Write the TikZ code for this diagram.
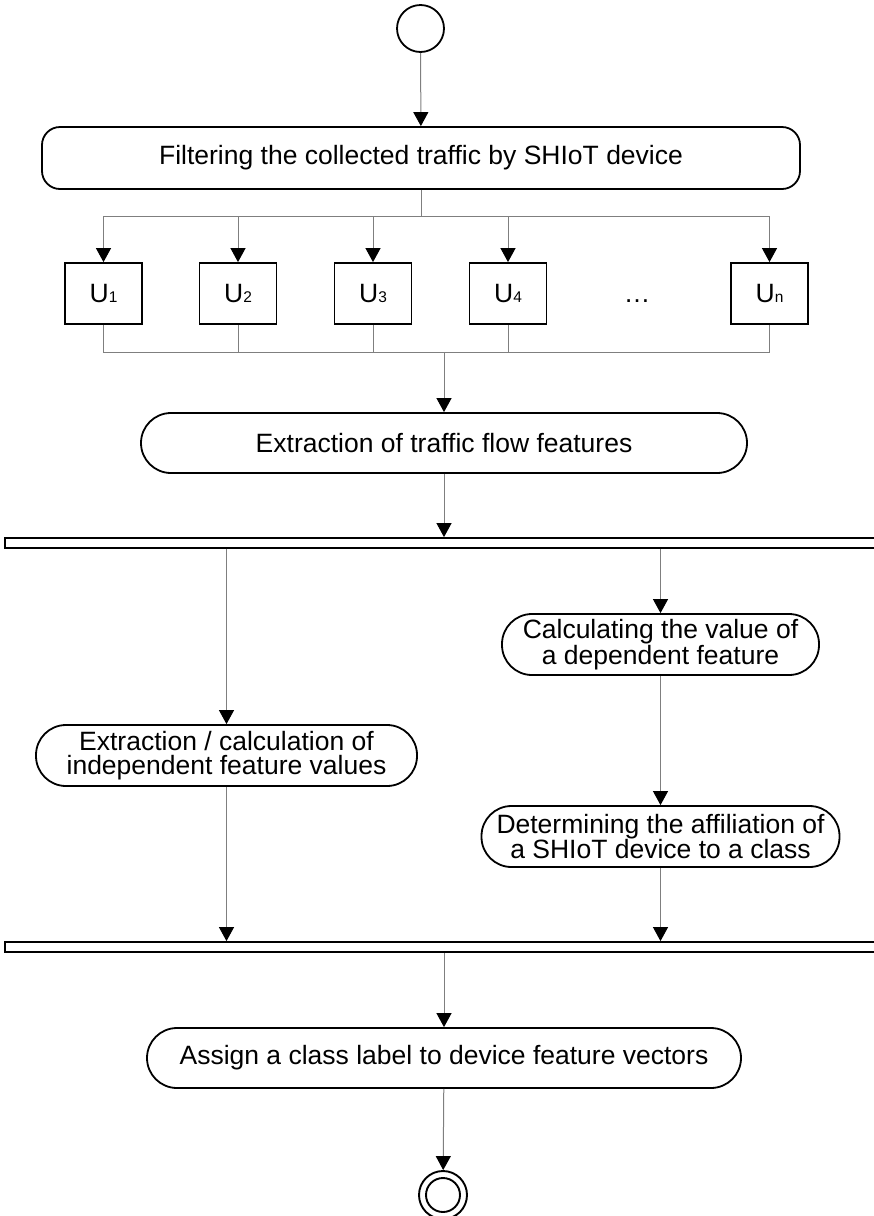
\documentclass[tikz,border=0pt]{standalone}
\usepackage{fontspec}
\setmainfont{Liberation Sans}
\usetikzlibrary{arrows.meta,positioning,calc}
\definecolor{wire}{HTML}{7F7F7F}
\tikzset{
  action/.style={draw=black,line width=1.8pt,fill=white,rounded corners=30pt,minimum height=61pt,inner sep=0pt,align=center,font=\fontsize{26.5}{24.5}\selectfont},
  unit/.style={draw=black,line width=1.8pt,fill=white,minimum width=77pt,minimum height=61pt,inner sep=0pt,font=\fontsize{26.5}{26.5}\selectfont},
  bar/.style={draw=black,line width=1.8pt,fill=white,minimum width=872pt,minimum height=10pt,inner sep=0pt},
  initial/.style={circle,draw=black,line width=1.8pt,minimum size=47pt,inner sep=0pt},
  final/.style={circle,draw=black,line width=1.9pt,minimum size=48pt,inner sep=0pt},
  link/.style={draw=wire,line width=1pt},
  flow/.style={link,-{Triangle[length=14pt,width=15pt,color=black]}},
}
\newcommand{\usub}[1]{{\fontsize{15.5}{15.5}\selectfont #1}}

\begin{document}
\begin{tikzpicture}[x=1pt,y=-1pt]
  \useasboundingbox (0,0) rectangle (874,1216);
  % start and filtering
  \node[initial] (start) at (420.5,28.5) {};
  \node[action,rounded corners=18pt,minimum width=758pt,minimum height=62pt] (filter) at (421,158) {Filtering the collected traffic by SHIoT device};
  % units
  \node[unit] (u1) at (103.5,293.5) {U\usub{1}};
  \node[unit] (u2) at (238,293.5) {U\usub{2}};
  \node[unit] (u3) at (373,293.5) {U\usub{3}};
  \node[unit] (u4) at (508,293.5) {U\usub{4}};
  \node[unit] (un) at (769.5,293.5) {U\usub{n}};
  \node[font=\fontsize{26.5}{26.5}\selectfont,anchor=base,inner sep=0pt] (dots) at (637,302) {…};
  \coordinate (split) at (421,216);
  \coordinate (merge) at (444,352.7);
  % features
  \node[action,minimum width=606pt,minimum height=60pt] (extract) at (444,443) {Extraction of traffic flow features};
  \node[bar] (fork) at (441,543) {};
  \node[action,minimum width=381pt] (indep) at (226.5,755.5) {Extraction / calculation of\\independent feature values};
  \node[action,minimum width=317pt] (depval) at (660.5,644.5) {Calculating the value of\\a dependent feature};
  \node[action,minimum width=358pt] (affil) at (660.5,836.5) {Determining the affiliation of\\a SHIoT device to a class};
  \node[bar] (join) at (441,947) {};
  \node[action,minimum width=594pt,minimum height=60pt] (assign) at (444,1058) {Assign a class label to device feature vectors};
  \node[final] (stop) at (443,1195) {};
  \draw[line width=1.9pt] (stop.center) circle[radius=17pt];
  % connectors
  \draw[flow] (start) -- (filter);
  \draw[link] (filter) -- (split);
  \foreach \u in {u1,u2,u3,u4,un}
    \draw[flow] (split) -| (\u);
  \foreach \u in {u1,u2,u3,u4,un}
    \draw[link] (\u) |- (merge);
  \draw[flow] (merge) -- (extract);
  \draw[flow] (extract) -- (extract |- fork.north);
  \draw[flow] (fork.south -| indep) -- (indep);
  \draw[flow] (fork.south -| depval) -- (depval);
  \draw[flow] (depval) -- (affil);
  \draw[flow] (indep) -- (indep |- join.north);
  \draw[flow] (affil) -- (affil |- join.north);
  \draw[flow] (join.south -| assign) -- (assign);
  \draw[flow] (assign) -- (stop);
\end{tikzpicture}
\end{document}
